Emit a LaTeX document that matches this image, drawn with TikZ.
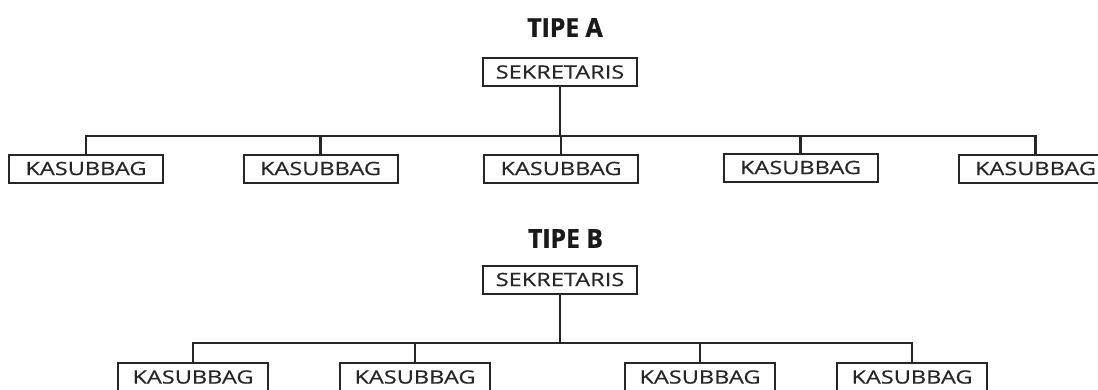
\documentclass[tikz,border=0pt]{standalone}
\usepackage{fontspec}
\setmainfont{Open Sans}
\newfontfamily\boxfont[FakeStretch=1.28,FakeBold=0.4]{Open Sans}
\newfontfamily\titlefont[FakeBold=1.2,FakeStretch=0.95]{Open Sans}
\begin{document}
\begin{tikzpicture}[x=0.75pt,y=-0.75pt,
  orgbox/.style={draw=black!85,line width=1.5pt,rectangle,inner sep=0pt,
    minimum width=154*0.75pt,minimum height=28*0.75pt,
    font=\boxfont\fontsize{13.8}{16}\selectfont,text=black!85},
  orgboxb/.style={orgbox,minimum width=150*0.75pt},
  title/.style={inner sep=0pt,font=\titlefont\fontsize{19.5}{22}\selectfont\bfseries,text=black!90},
  conn/.style={draw=black!85,line width=1.6pt}]
\useasboundingbox (0,0) rectangle (1098,389);
\clip (0,0) rectangle (1098,389);
\fill[white] (0,0) rectangle (1098,389);
% TIPE A
\node[title] (ta) at (565,27.5) {TIPE A};
\node[orgbox] (sa) at (560,72) {SEKRETARIS};
\node[orgbox] (ka1) at (86,168.5) {KASUBBAG};
\node[orgbox] (ka2) at (320.5,168.5) {KASUBBAG};
\node[orgbox] (ka3) at (561,168.5) {KASUBBAG};
\node[orgbox] (ka4) at (800.5,167.5) {KASUBBAG};
\node[orgbox] (ka5) at (1035.5,168.5) {KASUBBAG};
\coordinate (ja) at (560,136);
\draw[conn] (sa) -- (ja);
\draw[conn] (ja) -| (ka1);
\draw[conn] (ja) -| (ka2);
\draw[conn] (ja) -| (ka3);
\draw[conn] (ja) -| (ka4);
\draw[conn] (ja) -| (ka5);
% TIPE B
\node[title] (tb) at (565.5,238.5) {TIPE B};
\node[orgbox] (sb) at (560,279.5) {SEKRETARIS};
\node[orgboxb] (kb1) at (193,377) {KASUBBAG};
\node[orgboxb] (kb2) at (415,377) {KASUBBAG};
\node[orgboxb] (kb3) at (700,377) {KASUBBAG};
\node[orgboxb] (kb4) at (912,377) {KASUBBAG};
\coordinate (jb) at (560,343);
\draw[conn] (sb) -- (jb);
\draw[conn] (jb) -| (kb1);
\draw[conn] (jb) -| (kb2);
\draw[conn] (jb) -| (kb3);
\draw[conn] (jb) -| (kb4);
\end{tikzpicture}
\end{document}
